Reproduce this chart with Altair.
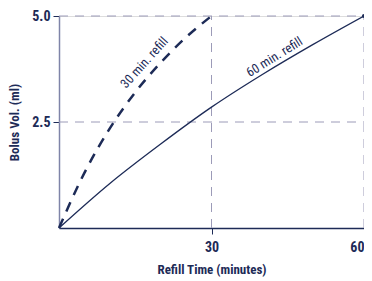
import altair as alt
import pandas as pd

# 60-minute refill curve
t60 = [0, 10, 20, 30, 40, 50, 60]
v60 = [0, 1.05, 1.98, 2.85, 3.62, 4.33, 5.0]
# 30-minute refill curve
t30 = [0, 5, 10, 15, 20, 25, 30]
v30 = [0, 1.3, 2.35, 3.2, 3.9, 4.5, 5.0]

hgrid_vals = [2.5, 5.0]
vgrid_vals = [30, 60]

label_text = ["30 min. refill", "60 min. refill"]
label_x = [16.8, 42.4]
label_y = [3.9, 4.03]
label_angle = [312, 328]

NAVY = "#1d2b57"
GRID = "#9c9bb8"
FONT = "Roboto Condensed, Liberation Sans Narrow, Roboto, sans-serif"

xs = alt.Scale(domain=[0, 60], nice=False)
ys = alt.Scale(domain=[0, 5], nice=False)

df60 = pd.DataFrame({"t": t60, "v": v60})
df30 = pd.DataFrame({"t": t30, "v": v30})
dfh = pd.DataFrame({"y": hgrid_vals, "x0": [0] * 2, "x1": [60] * 2})
dfv = pd.DataFrame({"x": vgrid_vals, "y0": [0] * 2, "y1": [5] * 2})
dfl = pd.DataFrame({"text": label_text, "x": label_x, "y": label_y, "a": label_angle})
dfend = pd.DataFrame({"t": [t60[-1]], "v": [v60[-1]]})

hgrid = alt.Chart(dfh).mark_rule(color=GRID, strokeDash=[9, 7], strokeWidth=1).encode(
    y=alt.Y("y:Q", scale=ys), x=alt.X("x0:Q", scale=xs), x2="x1:Q")
vgrid = alt.Chart(dfv).mark_rule(color=GRID, strokeDash=[9, 7], strokeWidth=1).encode(
    x=alt.X("x:Q", scale=xs), y=alt.Y("y0:Q", scale=ys), y2="y1:Q")

line60 = alt.Chart(df60).mark_line(color=NAVY, strokeWidth=1.3, interpolate="monotone").encode(
    x=alt.X("t:Q", scale=xs,
            axis=alt.Axis(values=vgrid_vals, title="Refill Time (minutes)", grid=False,
                          domainColor=NAVY, domainWidth=1.5, tickColor=NAVY, tickSize=6,
                          labelFont=FONT, labelFontSize=14, labelFontWeight="bold",
                          labelColor=NAVY, labelPadding=6,
                          titleFont=FONT, titleFontSize=13, titleFontWeight="bold",
                          titleColor=NAVY, titlePadding=9)),
    y=alt.Y("v:Q", scale=ys,
            axis=alt.Axis(values=hgrid_vals, format=".1f", title="Bolus Vol. (ml)", grid=False,
                          domainColor="#7f84a8", domainWidth=1.5, tickColor=NAVY, tickSize=6,
                          labelFont=FONT, labelFontSize=14, labelFontWeight="bold",
                          labelColor=NAVY, labelPadding=3,
                          titleFont=FONT, titleFontSize=13, titleFontWeight="bold",
                          titleColor=NAVY, titlePadding=10)))

line30 = alt.Chart(df30).mark_line(color=NAVY, strokeWidth=2.5, strokeDash=[10, 8],
                                   interpolate="monotone").encode(
    x=alt.X("t:Q", scale=xs), y=alt.Y("v:Q", scale=ys))

endpt = alt.Chart(dfend).mark_point(filled=True, color=NAVY, size=18, opacity=1).encode(
    x=alt.X("t:Q", scale=xs), y=alt.Y("v:Q", scale=ys))

labels = alt.Chart(dfl).mark_text(font=FONT, fontSize=13, color=NAVY).encode(
    x=alt.X("x:Q", scale=xs), y=alt.Y("y:Q", scale=ys), text="text:N", angle=alt.Angle("a:Q", scale=None))

chart = alt.layer(hgrid, vgrid, line60, line30, endpt, labels).properties(
    width=305, height=212,
    autosize=alt.AutoSizeParams(type="none"),
    padding={"left": 51, "top": 8, "right": 0, "bottom": 50},
).configure_view(stroke=None).configure(background="white")

chart.save("out.html", embed_options={"renderer": "svg", "actions": False})
